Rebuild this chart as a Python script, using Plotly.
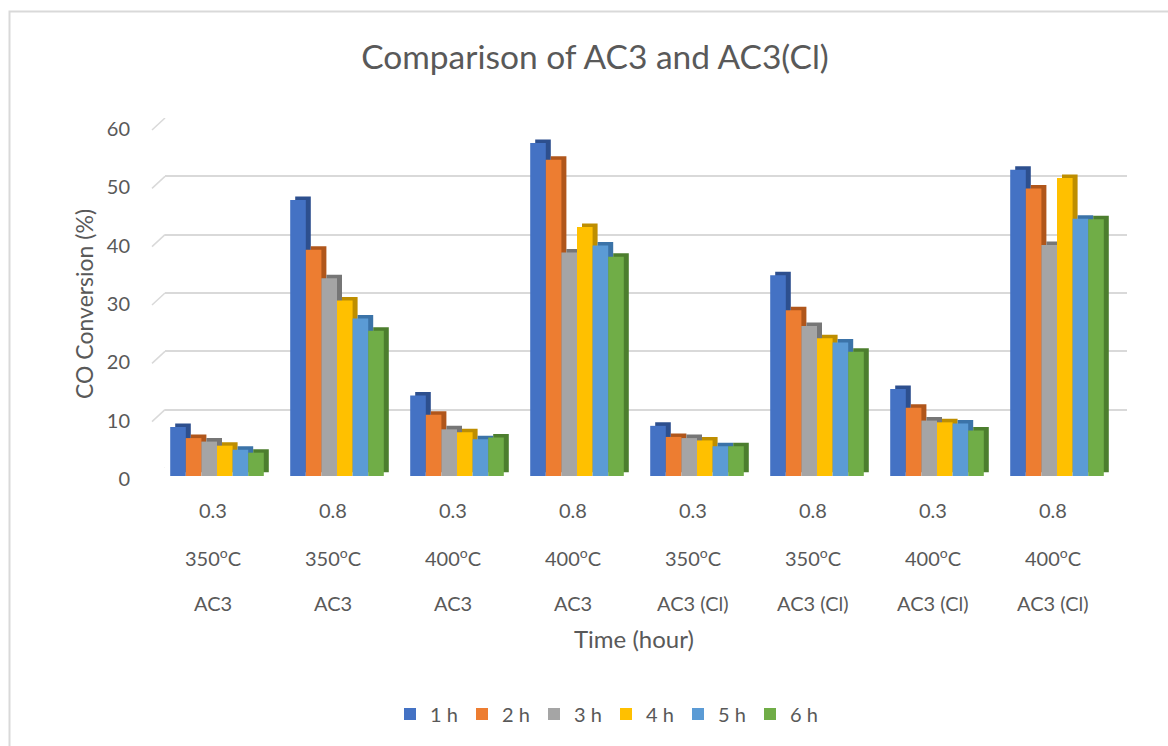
import plotly.graph_objects as go

W, H = 1168, 746

# ---- data ----
time_labels = ["0.3", "0.8", "0.3", "0.8", "0.3", "0.8", "0.3", "0.8"]
temp_labels = ["350<sup>o</sup>C", "350<sup>o</sup>C", "400<sup>o</sup>C", "400<sup>o</sup>C",
               "350<sup>o</sup>C", "350<sup>o</sup>C", "400<sup>o</sup>C", "400<sup>o</sup>C"]
sample_labels = ["AC3", "AC3", "AC3", "AC3", "AC3 (Cl)", "AC3 (Cl)", "AC3 (Cl)", "AC3 (Cl)"]
series_names = ["1 h", "2 h", "3 h", "4 h", "5 h", "6 h"]
h1 = [8.4, 47.3, 13.8, 57.1, 8.6, 34.4, 14.9, 52.5]
h2 = [6.5, 38.8, 10.5, 54.2, 6.7, 28.4, 11.7, 49.3]
h3 = [5.9, 33.9, 8.0, 38.3, 6.5, 25.7, 9.5, 39.6]
h4 = [5.2, 30.1, 7.5, 42.7, 6.1, 23.6, 9.2, 51.1]
h5 = [4.5, 27.0, 6.3, 39.5, 5.1, 22.9, 9.0, 44.1]
h6 = [4.0, 24.9, 6.6, 37.6, 5.1, 21.3, 7.8, 44.0]
series_values = [h1, h2, h3, h4, h5, h6]
y_ticks = [0, 10, 20, 30, 40, 50, 60]

front_colors = ["#4472C4", "#ED7D31", "#A5A5A5", "#FFC000", "#5B9BD5", "#70AD47"]
side_colors = ["#2D4F8E", "#B0561B", "#767676", "#BE8E00", "#3B73A8", "#4C7E2E"]

cats = [f"{s} {t} {h}" for s, t, h in zip(sample_labels, temp_labels, time_labels)]

FONT = "Lato"
TXT = "#595959"
GRID = "#D9D9D9"


def px_x(p):
    return p / W


def px_y(p):
    return 1 - p / H


fig = go.Figure()

# back wall (gridlines only)
fig.add_trace(go.Scatter(x=cats, y=[None] * len(cats), xaxis="x", yaxis="y",
                         showlegend=False, hoverinfo="skip", mode="markers"))

# bar depth (side / top faces)
for name, vals, col in zip(series_names, series_values, side_colors):
    fig.add_trace(go.Bar(x=cats, y=vals, name=name, xaxis="x2", yaxis="y2",
                         marker=dict(color=col, line=dict(width=0)),
                         showlegend=False, hoverinfo="skip"))

# front faces
for name, vals, col in zip(series_names, series_values, front_colors):
    fig.add_trace(go.Bar(x=cats, y=vals, name=name, xaxis="x3", yaxis="y3",
                         marker=dict(color=col, line=dict(width=0))))

annotations = []
for c, t, tp, s in zip(cats, time_labels, temp_labels, sample_labels):
    for txt, py in ((t, 510), (tp, 557), (s, 603)):
        annotations.append(dict(text=txt, x=c, xref="x3", y=px_y(py), yref="paper",
                                xshift=-4, showarrow=False, xanchor="center", yanchor="middle",
                                font=dict(family=FONT, size=20, color=TXT)))
annotations.append(dict(text="CO Conversion (%)", textangle=-90, x=px_x(84), y=px_y(304),
                        xref="paper", yref="paper", showarrow=False,
                        xanchor="center", yanchor="middle",
                        font=dict(family=FONT, size=23, color=TXT)))
annotations.append(dict(text="Time (hour)", x=px_x(634), y=px_y(638),
                        xref="paper", yref="paper", showarrow=False,
                        xanchor="center", yanchor="middle",
                        font=dict(family=FONT, size=24, color=TXT)))

shapes = [dict(type="rect", xref="paper", yref="paper", x0=px_x(9.5), x1=1.2,
               y0=-0.2, y1=px_y(11.5), line=dict(color=GRID, width=2),
               fillcolor="rgba(0,0,0,0)", layer="below")]
for v in y_ticks:
    shapes.append(dict(type="line", xref="x domain", xsizemode="pixel", xanchor=0,
                       x0=-13, x1=0, yref="y", ysizemode="pixel", yanchor=v,
                       y0=-12, y1=0, line=dict(color=GRID, width=1.5), layer="below"))

hidden_x = dict(type="category", categoryorder="array", categoryarray=cats,
                range=[-0.5, len(cats) - 0.5], visible=False, fixedrange=True,
                automargin=False)

fig.update_layout(
    template="none",
    width=W, height=H,
    margin=dict(l=0, r=0, t=0, b=0, pad=0, autoexpand=False),
    paper_bgcolor="white", plot_bgcolor="rgba(0,0,0,0)",
    barmode="group", bargap=0.22, bargroupgap=0,
    title=dict(text="Comparison of AC3 and AC3(Cl)", x=px_x(595), y=px_y(57),
               xref="paper", yref="container",
               xanchor="center", yanchor="middle",
               font=dict(family=FONT, size=33.5, color=TXT)),
    xaxis=dict(hidden_x, domain=[px_x(165), px_x(1127)], anchor="y"),
    yaxis=dict(domain=[px_y(468), px_y(118)], anchor="x", range=[0, 60],
               tickvals=y_ticks, showgrid=True, gridcolor=GRID, gridwidth=1.5,
               showticklabels=False, zeroline=False, showline=False, ticks="",
               automargin=False),
    xaxis2=dict(hidden_x, domain=[px_x(162), px_x(1122)], anchor="y2"),
    yaxis2=dict(domain=[px_y(472.5), px_y(122.5)], anchor="x2", range=[0, 60],
                visible=False, automargin=False),
    xaxis3=dict(hidden_x, domain=[px_x(157), px_x(1117)], anchor="y3"),
    yaxis3=dict(domain=[px_y(476), px_y(126)], anchor="x3", range=[0, 60],
                tickvals=y_ticks, showgrid=False, zeroline=False, showline=False,
                ticks="outside", ticklen=22, tickcolor="rgba(0,0,0,0)",
                ticklabelshift=3, automargin=False,
                tickfont=dict(family=FONT, size=20, color=TXT)),
    legend=dict(orientation="h", x=px_x(606), y=px_y(714), xanchor="center",
                yanchor="middle", font=dict(family=FONT, size=20, color=TXT),
                bgcolor="rgba(0,0,0,0)", entrywidth=27, entrywidthmode="pixels",
                itemclick=False, itemdoubleclick=False, traceorder="normal"),
    annotations=annotations,
    shapes=shapes,
    showlegend=True,
)

fig.write_html("out.html")
